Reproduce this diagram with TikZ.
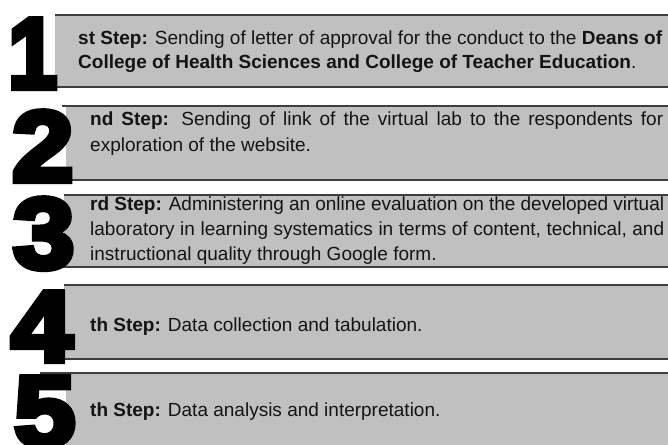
\documentclass[tikz,border=0pt]{standalone}
\usepackage{fontspec}
\usepackage{xcolor}
\usepackage{tikz}
\setmainfont{Liberation Sans}
\newfontfamily\numfont[FakeBold=6]{Liberation Sans Bold}

\definecolor{barfill}{RGB}{192,192,192}
\definecolor{barline}{RGB}{62,62,62}

\begin{document}
\begin{tikzpicture}[x=1pt,y=-1pt,
    barrule/.style={draw=barline,line width=1.5pt},
    bignum/.style={anchor=base west,inner sep=0pt,xscale=1.1,font=\numfont\fontsize{100}{100}\selectfont},
    steptext/.style={anchor=base west,inner sep=0pt,align=justify,text=black!92,font=\fontsize{19}{23.5}\selectfont}]
    \clip (0,0) rectangle (668,444);
    \fill[white] (0,0) rectangle (668,444);
    % grey bars, running off the right edge (no border on the left)
    \fill[barfill] (55,15) rectangle (680,87);
    \fill[barfill] (66,106) rectangle (680,180);
    \fill[barfill] (64,195) rectangle (680,267);
    \fill[barfill] (64,285) rectangle (680,359);
    \fill[barfill] (66,373) rectangle (680,470);
    \draw[barrule] (55,15) -- (680,15) (55,87) -- (680,87);
    \draw[barrule] (62,106) -- (680,106) (62,180) -- (680,180);
    \draw[barrule] (64,195) -- (680,195) (52,267) -- (680,267);
    \draw[barrule] (64,285) -- (680,285) (50,359) -- (680,359);
    \draw[barrule] (40,373) -- (680,373);
    % big numbers on top of the bars
    \node[bignum,xscale=0.8] (n1) at (8,88) {1};
    \node[bignum] (n2) at (12,181) {2};
    \node[bignum] (n3) at (13,268) {3};
    \node[bignum] (n4) at (11,361) {4};
    \node[bignum] (n5) at (14,446) {5};
    % step texts
    \node[steptext,text width=584pt] (s1) at (78,45) {\textbf{st Step:} Sending of letter of approval for the conduct to the \textbf{Deans of}\linebreak \textbf{College of Health Sciences and College of Teacher Education}.};
    \node[steptext,text width=573pt,font=\fontsize{19}{26}\selectfont] (s2) at (90,125) {\textbf{nd Step:} Sending of link of the virtual lab to the respondents for\linebreak exploration of the website.};
    \node[steptext,text width=574pt,font=\fontsize{19}{25}\selectfont] (s3) at (90,210) {\textbf{rd Step:} Administering an online evaluation on the developed virtual\linebreak laboratory in learning systematics in terms of content, technical, and\linebreak instructional quality through Google form.};
    \node[steptext] (s4) at (90,331) {\textbf{th Step:} Data collection and tabulation.};
    \node[steptext] (s5) at (90,416) {\textbf{th Step:} Data analysis and interpretation.};
\end{tikzpicture}
\end{document}
